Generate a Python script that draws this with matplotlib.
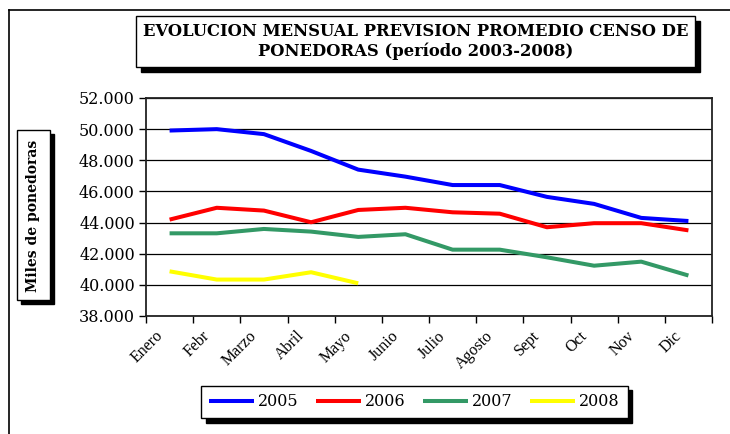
import matplotlib
matplotlib.use('Agg')
import matplotlib.pyplot as plt
from matplotlib.patches import Rectangle
from matplotlib.transforms import ScaledTranslation, blended_transform_factory
import numpy as np

# Monthly averaged laying hen census forecast (thousands)
months = ['Enero', 'Febr', 'Marzo', 'Abril', 'Mayo', 'Junio', 'Julio',
          'Agosto', 'Sept', 'Oct', 'Nov', 'Dic']
v2005 = [49910, 50000, 49680, 48600, 47400, 46950, 46410, 46410, 45650, 45200, 44300, 44100]
v2006 = [44190, 44950, 44770, 44020, 44810, 44950, 44660, 44570, 43700, 43960, 43960, 43500]
v2007 = [43310, 43310, 43590, 43420, 43080, 43250, 42260, 42260, 41770, 41230, 41490, 40600]
v2008 = [40870, 40340, 40340, 40810, 40100]
series = [('2005', v2005, '#0000FF'), ('2006', v2006, '#FF0000'),
          ('2007', v2007, '#339966'), ('2008', v2008, '#FFFF00')]
yticks = [38000, 40000, 42000, 44000, 46000, 48000, 50000, 52000]

W, H = 730, 434
fig = plt.figure(figsize=(W / 100, H / 100), dpi=100)


def fx(px):
    return px / W


def fy(py):
    return 1 - py / H


def shadow_box(x0, y0, x1, y1, off=5):
    # box given in pixel coords (top-left origin) with a black drop shadow
    fig.patches.append(Rectangle((fx(x0 + off), fy(y1 + off)), fx(x1 - x0), (y1 - y0) / H,
                                 transform=fig.transFigure, facecolor='black',
                                 edgecolor='black', zorder=1))
    fig.patches.append(Rectangle((fx(x0), fy(y1)), fx(x1 - x0), (y1 - y0) / H,
                                 transform=fig.transFigure, facecolor='white',
                                 edgecolor='black', lw=1, zorder=2))


# chart area border (only top and left visible)
fig.add_artist(plt.Line2D([fx(9), 1], [fy(10), fy(10)], color='black', lw=1.2,
                          transform=fig.transFigure))
fig.add_artist(plt.Line2D([fx(9), fx(9)], [fy(10), 0], color='black', lw=1.2,
                          transform=fig.transFigure))

ax = fig.add_axes([fx(146), fy(316), fx(712 - 146), (316 - 98) / H])
x = np.arange(len(months))
for name, vals, col in series:
    ax.plot(x[:len(vals)], vals, color=col, lw=2.9, label=name, solid_capstyle='butt')

ax.set_xlim(-0.5, len(months) - 0.5)
ax.set_ylim(yticks[0], yticks[-1])
ax.set_yticks(yticks)
ax.set_yticklabels([f'{v:,}'.replace(',', '.') for v in yticks],
                   family='DejaVu Serif', fontsize=11.5)
ax.yaxis.grid(True, color='black', lw=0.9)
ax.set_axisbelow(True)

# category boundaries carry the tick marks, month names sit under the centres
ax.set_xticks(np.arange(-0.5, len(months)))
ax.set_xticklabels([])
trans = blended_transform_factory(ax.transData, ax.transAxes) + \
    ScaledTranslation(-15 / 100, -12 / 100, fig.dpi_scale_trans)
for i, m in enumerate(months):
    ax.text(i, 0, m, transform=trans, rotation=45, ha='right', va='top',
            rotation_mode='anchor', family='Liberation Serif', fontsize=11.5)
ax.tick_params(axis='both', which='major', direction='out', length=5, width=1, color='black')
ax.tick_params(axis='y', pad=3)
for s in ax.spines.values():
    s.set_color('#222222')
    s.set_linewidth(1.3)

# title box
shadow_box(136, 16, 695, 67)
fig.text(fx(416), fy(41.5), 'EVOLUCION MENSUAL PREVISION PROMEDIO CENSO DE\nPONEDORAS (período 2003-2008)',
         ha='center', va='center', family='DejaVu Serif', fontweight='bold',
         fontsize=11.8, linespacing=1.2, zorder=3)

# y label box
shadow_box(17, 130, 50, 300, off=4)
fig.text(fx(33.5), fy(216), 'Miles de ponedoras', rotation=90, ha='center', va='center',
         family='DejaVu Serif', fontweight='bold', fontsize=10, zorder=3)

# legend
leg = fig.legend(loc='center', bbox_to_anchor=(fx(414.5), fy(402)), ncol=4,
                 prop={'family': 'DejaVu Serif', 'size': 11.5}, handlelength=2.8,
                 handletextpad=0.25, columnspacing=1.1, fancybox=False, framealpha=1,
                 edgecolor='black', borderpad=0.5,
                 shadow={'ox': 3, 'oy': -3, 'facecolor': 'black', 'edgecolor': 'black',
                         'alpha': 1})
leg.get_frame().set_linewidth(1)

fig.savefig('out.png', dpi=100)
